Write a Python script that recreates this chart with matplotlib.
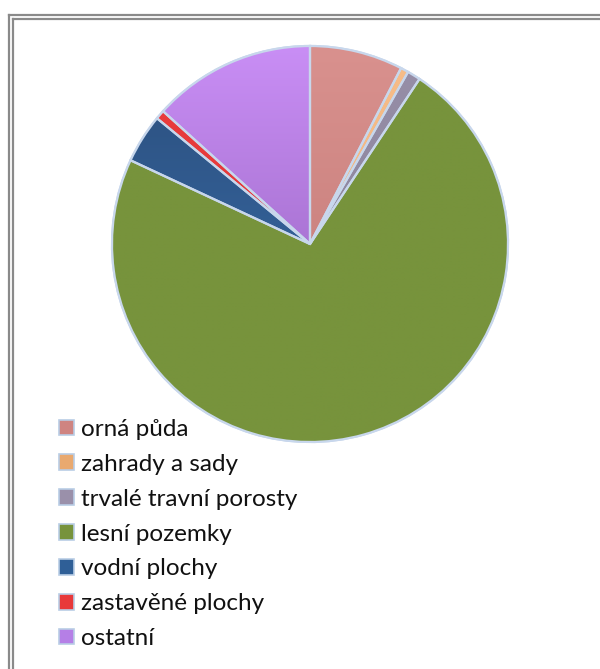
import matplotlib
matplotlib.use("Agg")
import matplotlib.pyplot as plt
import numpy as np
import copy
from matplotlib.patches import Patch
from matplotlib.colors import LinearSegmentedColormap
from matplotlib.lines import Line2D

categories = ["orná půda", "zahrady a sady", "trvalé travní porosty", "lesní pozemky",
              "vodní plochy", "zastavěné plochy", "ostatní"]
values = [7.6, 0.64, 1.08, 72.6, 4.0, 0.75, 13.3]

# top / bottom gradient colours per slice
top_colors = ["#D9918E", "#F6BD8A", "#978FA8", "#77933C", "#2B4E7C", "#EA3D3E", "#C98EF5"]
bot_colors = ["#C07774", "#EFAF75", "#857D94", "#77933C", "#3B71B0", "#E03334", "#8D5CB5"]
legend_colors = ["#CF8481", "#E9A96F", "#9A90AA", "#77933C", "#2F5F97", "#E8393A", "#B57FE6"]

plt.rcParams['font.family'] = ['Lato', 'DejaVu Sans']

fig = plt.figure(figsize=(6.0, 6.69), dpi=100)
ax = fig.add_axes([0, 0, 1, 1])
ax.axis('off')

cx, cy, r = 310, 669 - 244, 198
wedges, _ = ax.pie(values, center=(cx, cy), radius=r, startangle=90, counterclock=False,
                   colors=bot_colors,
                   wedgeprops=dict(edgecolor="#C8D7EC", linewidth=1.6))
ax.set_xlim(0, 600)
ax.set_ylim(0, 669)
ax.set_aspect('equal')

grad = np.linspace(0, 1, 256).reshape(-1, 1)
for w, tc, bc in zip(wedges, top_colors, bot_colors):
    cmap = LinearSegmentedColormap.from_list("g", [bc, tc])
    im = ax.imshow(grad, cmap=cmap, origin='lower', aspect='auto',
                   extent=(cx - r, cx + r, cy - r, cy + r), zorder=w.get_zorder() + 0.1,
                   interpolation='bilinear')
    im.set_clip_path(w)
    e = copy.copy(w)
    e.set_facecolor('none')
    e.set_zorder(w.get_zorder() + 0.2)
    ax.add_patch(e)
ax.set_xlim(0, 600)
ax.set_ylim(0, 669)

# frame (double grey line, top and left)
for off in (0, 4.5):
    x0 = 8.5 + off
    y0 = 669 - (14.5 + off)
    ax.add_line(Line2D([x0, 600], [y0, y0], color="#8A8A8A", lw=1.6, zorder=5))
    ax.add_line(Line2D([x0, x0], [y0, 0], color="#8A8A8A", lw=1.6, zorder=5))

handles = [Patch(facecolor=c, edgecolor="#B9CDE5", linewidth=1.2) for c in legend_colors]
leg = fig.legend(handles, categories, loc='upper left',
                 bbox_to_anchor=(59 / 600, 1 - 419 / 669), frameon=False,
                 fontsize=17.5, handlelength=0.62, handleheight=0.62,
                 handletextpad=0.29, labelspacing=0.57, borderpad=0, borderaxespad=0)
for t in leg.get_texts():
    t.set_color("#111111")

fig.savefig("out.png", dpi=100)
